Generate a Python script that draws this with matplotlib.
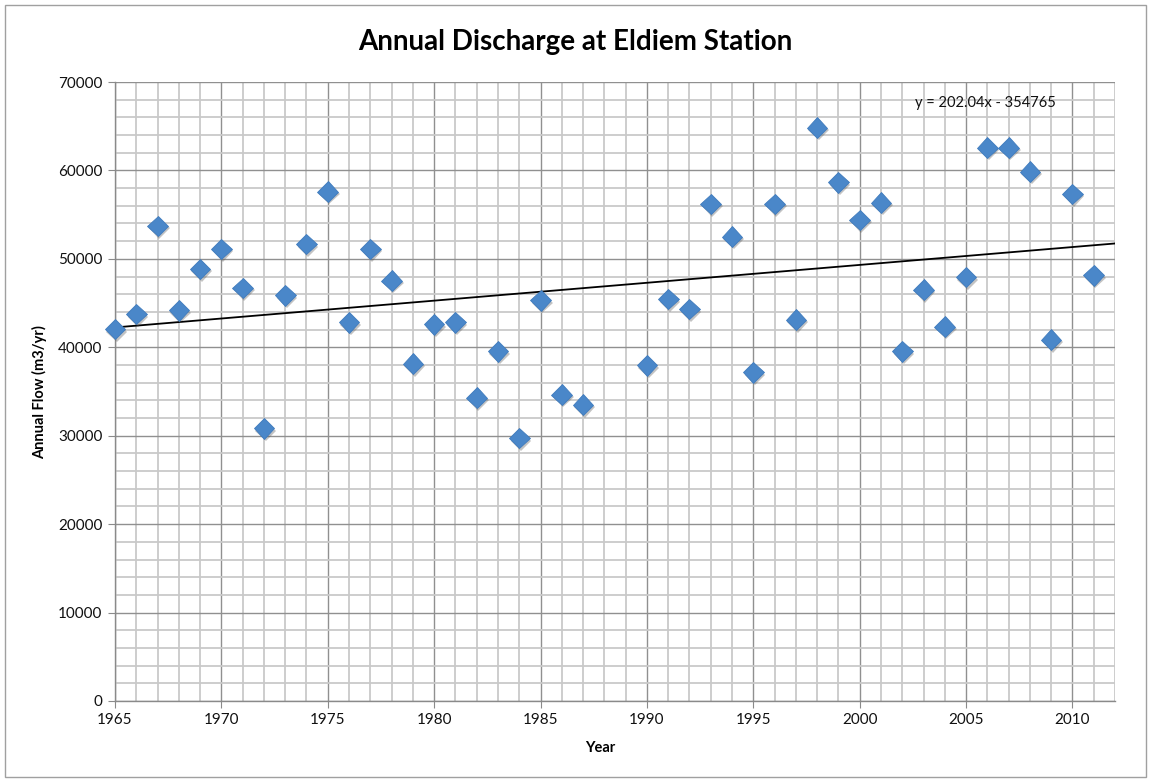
import matplotlib
matplotlib.use("Agg")
import matplotlib.pyplot as plt
import matplotlib.patheffects as pe
from matplotlib.ticker import MultipleLocator
from matplotlib.patches import Rectangle
import numpy as np

plt.rcParams['font.family'] = ['Lato', 'DejaVu Sans']

years = [1965, 1966, 1967, 1968, 1969, 1970, 1971, 1972, 1973, 1974, 1975, 1976,
         1977, 1978, 1979, 1980, 1981, 1982, 1983, 1984, 1985, 1986, 1987,
         1990, 1991, 1992, 1993, 1994, 1995, 1996, 1997, 1998, 1999, 2000,
         2001, 2002, 2003, 2004, 2005, 2006, 2007, 2008, 2009, 2010, 2011]
flow = [42060, 43750, 53730, 44160, 48870, 51130, 46720, 30830, 45860, 51660, 57610, 42810,
        51130, 47550, 38140, 42580, 42810, 34300, 39530, 29740, 45300, 34640, 33500,
        37950, 45450, 44320, 56220, 52520, 37160, 56220, 43110, 64840, 58670, 54410,
        56370, 39530, 46500, 42350, 47930, 62580, 62580, 59870, 40850, 57350, 48120]

trend_slope = 202.04
trend_intercept = -354765
trend_label = "y = 202.04x - 354765"

title = "Annual Discharge at Eldiem Station"
xlabel = "Year"
ylabel = "Annual Flow (m3/yr)"

fig = plt.figure(figsize=(11.51, 7.82), dpi=100)
ax = fig.add_axes([115/1151, 1-701/782, 1000/1151, 619/782])

ax.set_xlim(1965, 2012)
ax.set_ylim(0, 70000)
ax.xaxis.set_major_locator(MultipleLocator(5))
ax.xaxis.set_minor_locator(MultipleLocator(1))
ax.yaxis.set_major_locator(MultipleLocator(10000))
ax.yaxis.set_minor_locator(MultipleLocator(2000))

ax.grid(which='minor', color='#c9c9c9', linewidth=1.3, zorder=0)
ax.grid(which='major', color='#909090', linewidth=1.0, zorder=0.5)
ax.set_axisbelow(True)

for s in ['top', 'right']:
    ax.spines[s].set_visible(False)
for s in ['left', 'bottom']:
    ax.spines[s].set_color('#8a8a8a')
    ax.spines[s].set_linewidth(1.0)

ax.tick_params(which='major', direction='out', length=5, color='#8a8a8a',
               labelsize=11, pad=4, labelcolor='#111111')
ax.tick_params(which='minor', length=0)

xt = np.array([1965, 2012])
ax.plot(xt, trend_slope * xt + trend_intercept, color='black', linewidth=1.3, zorder=3)

ax.plot(years, flow, linestyle='none', marker='D', markersize=10.5,
        markerfacecolor='#4a87c9', markeredgecolor='#3f7bbd', markeredgewidth=0.6,
        zorder=4, clip_on=False,
        path_effects=[pe.SimplePatchShadow(offset=(1.2, -1.8), shadow_rgbFace='#555555', alpha=0.35),
                      pe.Normal()])

ax.text(0.8, 0.978, trend_label, transform=ax.transAxes, fontsize=10.5,
        ha='left', va='top', color='#111111')

fig.text(575/1151, 1-42/782, title, ha='center', va='center', fontsize=20, fontweight='bold')
fig.text(600/1151, 1-748/782, xlabel, ha='center', va='center', fontsize=10.5, fontweight='bold')
fig.text(40/1151, 1-392/782, ylabel, ha='center', va='center', fontsize=10.5,
         fontweight='bold', rotation=90)

fig.patches.append(Rectangle((5/1151, 5/782), 1141/1151, 772/782, transform=fig.transFigure,
                             fill=False, edgecolor='#a0a0a0', linewidth=1.0))

fig.savefig('out.png', dpi=100)
